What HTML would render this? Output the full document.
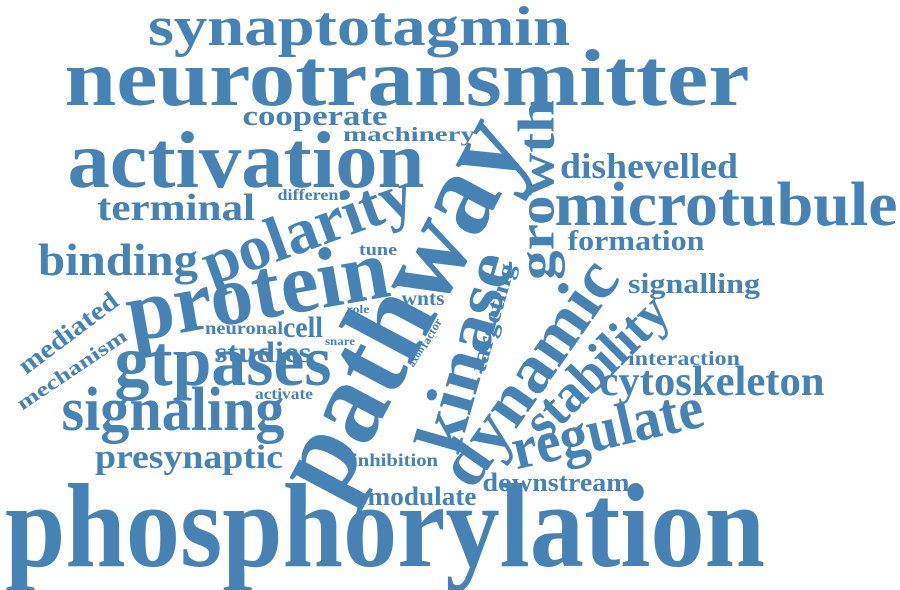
<!DOCTYPE html>
<html><head><meta charset="utf-8"><style>
html,body{margin:0;padding:0;background:#fff;}
svg{display:block;}
text{font-family:"Liberation Serif",serif;font-weight:bold;fill:#4682b4;}
</style></head><body>
<svg width="900" height="590" viewBox="0 0 900 590">
<g text-anchor="middle">
<text x="385" y="566" font-size="120" textLength="760" lengthAdjust="spacingAndGlyphs">phosphorylation</text>
<text x="407" y="105" font-size="80" textLength="685" lengthAdjust="spacingAndGlyphs">neurotransmitter</text>
<text x="359" y="45" font-size="56" textLength="422" lengthAdjust="spacingAndGlyphs">synaptotagmin</text>
<text x="246" y="187" font-size="80" textLength="357" lengthAdjust="spacingAndGlyphs">activation</text>
<text x="726" y="225" font-size="62" textLength="343" lengthAdjust="spacingAndGlyphs">microtubule</text>
<text x="649" y="178" font-size="36" textLength="178" lengthAdjust="spacingAndGlyphs">dishevelled</text>
<text x="176" y="220" font-size="38" textLength="158" lengthAdjust="spacingAndGlyphs">terminal</text>
<text x="315" y="125" font-size="29" textLength="145" lengthAdjust="spacingAndGlyphs">cooperate</text>
<text x="409" y="141" font-size="20" textLength="132" lengthAdjust="spacingAndGlyphs">machinery</text>
<text x="311" y="200" font-size="16" textLength="67" lengthAdjust="spacingAndGlyphs">different</text>
<text x="118" y="275" font-size="46" textLength="160" lengthAdjust="spacingAndGlyphs">binding</text>
<text x="378" y="255" font-size="17" textLength="38" lengthAdjust="spacingAndGlyphs">tune</text>
<text x="636" y="250" font-size="28" textLength="137" lengthAdjust="spacingAndGlyphs">formation</text>
<text x="694" y="293" font-size="28" textLength="132" lengthAdjust="spacingAndGlyphs">signalling</text>
<text x="684" y="365" font-size="20" textLength="112" lengthAdjust="spacingAndGlyphs">interaction</text>
<text x="712" y="395" font-size="42" textLength="225" lengthAdjust="spacingAndGlyphs">cytoskeleton</text>
<text x="244" y="334" font-size="18" textLength="78" lengthAdjust="spacingAndGlyphs">neuronal</text>
<text x="303" y="337" font-size="30" textLength="40" lengthAdjust="spacingAndGlyphs">cell</text>
<text x="358" y="313" font-size="12" textLength="23" lengthAdjust="spacingAndGlyphs">role</text>
<text x="423" y="305" font-size="20" textLength="43" lengthAdjust="spacingAndGlyphs">wnts</text>
<text x="340" y="345" font-size="12" textLength="30" lengthAdjust="spacingAndGlyphs">snare</text>
<text x="263" y="362" font-size="30" textLength="97" lengthAdjust="spacingAndGlyphs">studies</text>
<text x="223" y="385" font-size="72" textLength="217" lengthAdjust="spacingAndGlyphs">gtpases</text>
<text x="284" y="399" font-size="16" textLength="58" lengthAdjust="spacingAndGlyphs">activate</text>
<text x="173" y="430" font-size="62" textLength="223" lengthAdjust="spacingAndGlyphs">signaling</text>
<text x="189" y="468" font-size="34" textLength="188" lengthAdjust="spacingAndGlyphs">presynaptic</text>
<text x="395" y="466" font-size="18" textLength="86" lengthAdjust="spacingAndGlyphs">inhibition</text>
<text x="422" y="505" font-size="26" textLength="109" lengthAdjust="spacingAndGlyphs">modulate</text>
<text x="556" y="491" font-size="26" textLength="147" lengthAdjust="spacingAndGlyphs">downstream</text>
</g>
<g text-anchor="middle" dominant-baseline="central">
<text font-size="64" textLength="220" lengthAdjust="spacingAndGlyphs" transform="translate(307,228) rotate(-20)">polarity</text>
<text font-size="86" textLength="265" lengthAdjust="spacingAndGlyphs" transform="translate(257,290) rotate(-10)">protein</text>
<text font-size="26" textLength="118" lengthAdjust="spacingAndGlyphs" transform="translate(68,333) rotate(-37)">mediated</text>
<text font-size="20" textLength="128" lengthAdjust="spacingAndGlyphs" transform="translate(72,370) rotate(-34)">mechanism</text>
<text font-size="10" textLength="22" lengthAdjust="spacingAndGlyphs" transform="translate(417,357) rotate(-60)">axon</text>
<text font-size="12" textLength="32" lengthAdjust="spacingAndGlyphs" transform="translate(431,333) rotate(-60)">factor</text>
<text font-size="118" textLength="410" lengthAdjust="spacingAndGlyphs" transform="translate(398,305) rotate(-62)">pathway</text>
<text font-size="68" textLength="205" lengthAdjust="spacingAndGlyphs" transform="translate(464,352) rotate(-74)">kinase</text>
<text font-size="68" textLength="260" lengthAdjust="spacingAndGlyphs" transform="translate(528,372) rotate(-55)">dynamic</text>
<text font-size="52" textLength="180" lengthAdjust="spacingAndGlyphs" transform="translate(537,190) rotate(-90)">growth</text>
<text font-size="24" textLength="112" lengthAdjust="spacingAndGlyphs" transform="translate(493,318) rotate(-74)">targeting</text>
<text font-size="54" textLength="180" lengthAdjust="spacingAndGlyphs" transform="translate(596,366) rotate(-45)">stability</text>
<text font-size="60" textLength="195" lengthAdjust="spacingAndGlyphs" transform="translate(607,428) rotate(-13)">regulate</text>
</g>
</svg>
</body></html>
